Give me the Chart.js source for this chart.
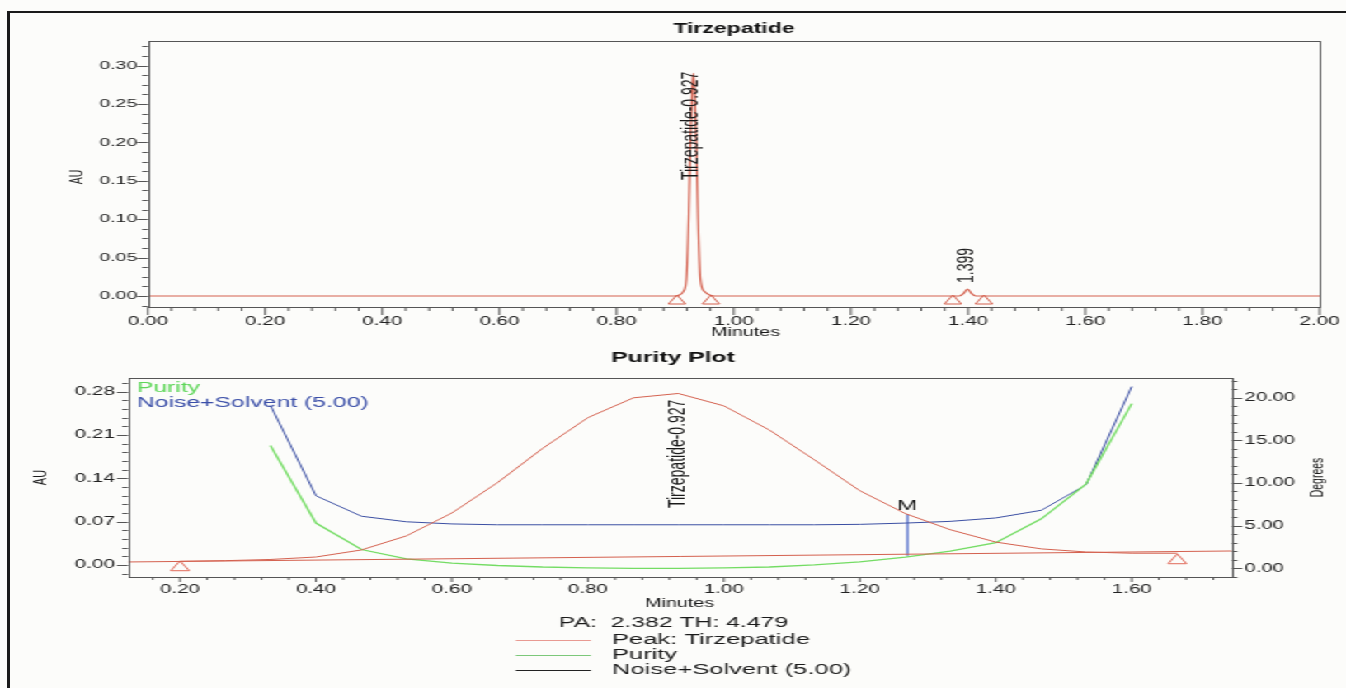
<!DOCTYPE html>
<html><head><meta charset="utf-8">
<script src="https://cdn.jsdelivr.net/npm/chart.js@4.4.1/dist/chart.umd.min.js"></script>
<style>
html,body{margin:0;padding:0;background:#fcfcfa;overflow:hidden}
#page{position:relative;width:1346px;height:688px;overflow:hidden;background:#fcfcfa}
#stretch{position:absolute;left:0;top:0;width:816px;height:688px;transform:scaleX(1.6495);transform-origin:0 0}
#c1{position:absolute;left:0;top:0}
#c2{position:absolute;left:0;top:345px}
#frame{position:absolute;left:7px;top:11px;right:-5px;bottom:-5px;border-left:3px solid #1a1a1a;border-top:2px solid #1a1a1a;pointer-events:none}
</style></head>
<body><div id="page"><div id="stretch"><canvas id="c1" width="816" height="345"></canvas><canvas id="c2" width="816" height="343"></canvas></div><div id="frame"></div></div>
<script>
// ---------------- DATA ----------------
// Top chromatogram (Minutes vs AU)
const TOP_TIME = [0.000, 0.900, 0.906, 0.914, 0.919, 0.923, 0.926, 0.929, 0.931, 0.933, 0.936, 0.939, 0.943, 0.950, 0.960, 0.968, 1.385, 1.392, 1.399, 1.406, 1.413, 2.000];
const TOP_AU   = [0,     0,     0.001, 0.006, 0.022, 0.100, 0.200, 0.270, 0.290, 0.270, 0.200, 0.100, 0.022, 0.006, 0.001, 0,     0,     0.003, 0.009, 0.003, 0,     0];
const TOP_MARK_TIME = [0.903, 0.961, 1.374, 1.427];
const TOP_MARK_AU   = [-0.0065, -0.0065, -0.0065, -0.0065];
const TOP_LABELS = ["Tirzepatide-0.927", "1.399"];
const TOP_LABEL_TIME = [0.927, 1.399];
const TOP_LABEL_AU = [0.151, 0.017];

// Purity plot
const PEAK_TIME = [0.200,0.267,0.333,0.400,0.467,0.533,0.600,0.667,0.733,0.800,0.867,0.933,1.000,1.067,1.133,1.200,1.267,1.333,1.400,1.467,1.533,1.600,1.667];
const PEAK_AU   = [0.0060,0.0070,0.0089,0.0129,0.0243,0.047,0.084,0.133,0.188,0.238,0.270,0.277,0.257,0.218,0.170,0.120,0.083,0.057,0.037,0.026,0.021,0.019,0.019];
const CURVE_TIME = [0.333,0.400,0.467,0.533,0.600,0.667,0.733,0.800,0.867,0.933,1.000,1.067,1.133,1.200,1.267,1.333,1.400,1.467,1.533,1.600];
const PURITY_DEG = [14.4,5.3,2.2,1.1,0.6,0.33,0.15,0.04,0.0,0.0,0.04,0.15,0.4,0.75,1.3,2.0,3.0,5.8,9.9,19.3];
const NOISE_DEG  = [19.1,8.5,6.1,5.45,5.2,5.1,5.1,5.1,5.1,5.1,5.1,5.1,5.1,5.15,5.3,5.5,5.9,6.8,9.8,21.3];
const BASE_TIME = [0.1235, 1.747];
const BASE_AU   = [0.0049, 0.0226];
const PP_MARK_TIME = [0.200, 1.667];
const PP_MARK_AU   = [-0.004, 0.0073];
const M_TIME = [1.270, 1.270];
const M_AU   = [0.0825, 0.0148];
const PP_LABELS = ["Tirzepatide-0.927", "M"];
const PP_LABEL_TIME = [0.927, 1.270];
const PP_LABEL_AU = [0.092, 0.0825];
const PA_TEXT = "PA:  2.382 TH: 4.479";
const LEGEND_NAMES = ["Peak: Tirzepatide", "Purity", "Noise+Solvent (5.00)"];

// ---------------- HELPERS ----------------
const FAM = "'Liberation Sans', Arial, Helvetica, sans-serif";
Chart.defaults.font.family = FAM;
const zip = (xs, ys) => xs.map((x, i) => ({x, y: ys[i]}));
const RED = '#d4614f', GREEN = '#74dc64', BLUE = '#3b4fa3';

const decor = {
  id: 'decor',
  afterDraw(chart, args, o) {
    const ctx = chart.ctx, a = chart.chartArea;
    ctx.save();
    ctx.strokeStyle = '#555'; ctx.lineWidth = 1;
    ctx.strokeRect(Math.round(a.left) + 0.5, Math.round(a.top) + 0.5, Math.round(a.right - a.left), Math.round(a.bottom - a.top));
    (o.ticks || []).forEach(s => {
      const sc = chart.scales[s.scale];
      const k0 = Math.ceil(sc.min / s.step - 1e-6);
      for (let k = k0; k * s.step <= sc.max + 1e-9; k++) {
        const v = k * s.step;
        const r = v / s.major;
        const major = Math.abs(r - Math.round(r)) < 1e-6;
        const len = major ? s.majorLen : s.minorLen;
        const p = sc.getPixelForValue(v);
        ctx.beginPath();
        ctx.strokeStyle = '#555';
        if (s.side === 'bottom') { ctx.moveTo(p, a.bottom); ctx.lineTo(p, a.bottom + len); }
        else if (s.side === 'left') { ctx.moveTo(a.left, Math.round(p) + 0.5); ctx.lineTo(a.left - len, Math.round(p) + 0.5); }
        else { ctx.moveTo(a.right, Math.round(p) + 0.5); ctx.lineTo(a.right + len, Math.round(p) + 0.5); }
        ctx.stroke();
      }
    });
    (o.anns || []).forEach(t => {
      const x = chart.scales.x.getPixelForValue(t.xv) + (t.dx || 0);
      const y = chart.scales[t.ys || 'y'].getPixelForValue(t.yv) + (t.dy || 0);
      ctx.save();
      ctx.font = t.font; ctx.fillStyle = t.color || '#1a1a1a';
      ctx.translate(x, y); if (t.rot) ctx.rotate(t.rot);
      ctx.textAlign = t.align || 'left'; ctx.textBaseline = t.base || 'middle';
      ctx.fillText(t.text, 0, 0);
      ctx.restore();
    });
    (o.texts || []).forEach(t => {
      ctx.save();
      ctx.font = t.font; ctx.fillStyle = t.color || '#1a1a1a';
      ctx.translate(t.x, t.y); if (t.rot) ctx.rotate(t.rot);
      ctx.textAlign = t.align || 'center'; ctx.textBaseline = t.base || 'middle';
      ctx.fillText(t.text, 0, 0);
      ctx.restore();
    });
    (o.lines || []).forEach(l => {
      ctx.beginPath(); ctx.strokeStyle = l.color; ctx.lineWidth = 1;
      ctx.moveTo(l.x1, l.y + 0.5); ctx.lineTo(l.x2, l.y + 0.5); ctx.stroke();
    });
    ctx.restore();
  }
};

const tickFont = (s) => ({size: s, family: FAM});
const hideGrid = (tl) => ({drawOnChartArea: false, drawTicks: true, tickLength: tl, tickColor: 'rgba(0,0,0,0)'});

// ---------------- TOP CHART ----------------
new Chart(document.getElementById('c1'), {
  type: 'line',
  data: {
    datasets: [
      {data: zip(TOP_TIME, TOP_AU), borderColor: RED, borderWidth: 1.2, pointRadius: 0, cubicInterpolationMode: 'monotone', fill: false},
      {type: 'scatter', data: zip(TOP_MARK_TIME, TOP_MARK_AU), pointStyle: 'triangle', pointRadius: 6, borderColor: RED, borderWidth: 1, backgroundColor: 'rgba(0,0,0,0)', showLine: false}
    ]
  },
  options: {
    responsive: false, animation: false, events: [],
    layout: {padding: {top: 41, right: 16, left: 0, bottom: 0}},
    plugins: {
      legend: {display: false}, tooltip: {enabled: false},
      decor: {
        ticks: [
          {scale: 'x', step: 0.04, major: 0.2, side: 'bottom', majorLen: 8, minorLen: 4},
          {scale: 'y', step: 0.0125, major: 0.05, side: 'left', majorLen: 6.5, minorLen: 3.5}
        ],
        anns: TOP_LABELS.map((t, i) => ({text: t, xv: TOP_LABEL_TIME[i], yv: TOP_LABEL_AU[i], rot: -Math.PI / 2, font: '14px ' + FAM, align: 'left', base: 'middle'})),
        texts: [
          {text: 'Tirzepatide', x: 445, y: 29, font: 'bold 14px ' + FAM, color: '#111'},
          {text: 'AU', x: 47.5, y: 177, rot: -Math.PI / 2, font: '10.5px ' + FAM},
          {text: 'Minutes', x: 452, y: 333, font: '12px ' + FAM}
        ]
      }
    },
    scales: {
      x: {type: 'linear', min: 0, max: 2, afterFit: s => { s.height = 38; },
        ticks: {stepSize: 0.2, callback: v => v.toFixed(2), font: tickFont(12.5), color: '#222', padding: 0, maxRotation: 0, autoSkip: false, includeBounds: false},
        grid: hideGrid(7.5), border: {display: false}},
      y: {type: 'linear', min: -0.0143, max: 0.332, afterFit: s => { s.width = 89.7; },
        ticks: {stepSize: 0.05, callback: v => v.toFixed(2), font: tickFont(11.8), color: '#222', padding: 0, autoSkip: false, includeBounds: false},
        grid: hideGrid(6.5), border: {display: false}}
    }
  },
  plugins: [decor]
});

// ---------------- PURITY PLOT ----------------
new Chart(document.getElementById('c2'), {
  type: 'line',
  data: {
    datasets: [
      {data: zip(BASE_TIME, BASE_AU), borderColor: RED, borderWidth: 1, pointRadius: 0, yAxisID: 'y'},
      {data: zip(PEAK_TIME, PEAK_AU), borderColor: RED, borderWidth: 1, pointRadius: 0, tension: 0, yAxisID: 'y'},
      {data: zip(CURVE_TIME, PURITY_DEG), borderColor: GREEN, borderWidth: 1.3, pointRadius: 0, tension: 0, yAxisID: 'y2'},
      {data: zip(CURVE_TIME, NOISE_DEG), borderColor: BLUE, borderWidth: 1, pointRadius: 0, tension: 0, yAxisID: 'y2'},
      {data: zip(M_TIME, M_AU), borderColor: '#4a68c8', borderWidth: 1.2, pointRadius: 0, yAxisID: 'y'},
      {type: 'scatter', data: zip(PP_MARK_TIME, PP_MARK_AU), pointStyle: 'triangle', pointRadius: 6.5, borderColor: '#e06a5a', borderWidth: 1, backgroundColor: 'rgba(0,0,0,0)', showLine: false, yAxisID: 'y'}
    ]
  },
  options: {
    responsive: false, animation: false, events: [],
    layout: {padding: {top: 33, right: 0, left: 0, bottom: 0}},
    plugins: {
      legend: {display: false}, tooltip: {enabled: false},
      decor: {
        ticks: [
          {scale: 'x', step: 0.04, major: 0.2, side: 'bottom', majorLen: 5, minorLen: 3},
          {scale: 'y', step: 0.014, major: 0.07, side: 'left', majorLen: 6.7, minorLen: 3.5},
          {scale: 'y2', step: 1, major: 5, side: 'right', majorLen: 6.5, minorLen: 3.5}
        ],
        anns: [
          {text: PP_LABELS[0], xv: PP_LABEL_TIME[0], yv: PP_LABEL_AU[0], dx: 2, rot: -Math.PI / 2, font: '14px ' + FAM, align: 'left', base: 'middle'},
          {text: PP_LABELS[1], xv: PP_LABEL_TIME[1], yv: PP_LABEL_AU[1], dy: -1, font: '15px ' + FAM, align: 'center', base: 'bottom'}
        ],
        texts: [
          {text: 'Purity Plot', x: 408, y: 13, font: 'bold 15px ' + FAM, color: '#111'},
          {text: 'Purity', x: 83, y: 43, font: '15px ' + FAM, color: '#5fd65a', align: 'left'},
          {text: 'Noise+Solvent (5.00)', x: 83, y: 58, font: '15px ' + FAM, color: '#3b4fa8', align: 'left'},
          {text: 'AU', x: 24.5, y: 132.5, rot: -Math.PI / 2, font: '11px ' + FAM},
          {text: 'Degrees', x: 799, y: 132.5, rot: -Math.PI / 2, font: '10.5px ' + FAM},
          {text: 'Minutes', x: 412, y: 259, font: '12px ' + FAM},
          {text: PA_TEXT, x: 338.8, y: 278, font: '15px ' + FAM, align: 'left'},
          {text: LEGEND_NAMES[0], x: 371, y: 295, font: '15.5px ' + FAM, align: 'left'},
          {text: LEGEND_NAMES[1], x: 371, y: 310, font: '15.5px ' + FAM, align: 'left'},
          {text: LEGEND_NAMES[2], x: 371, y: 325, font: '15.5px ' + FAM, align: 'left'}
        ],
        lines: [
          {x1: 312.7, x2: 358.2, y: 295, color: '#e89a92'},
          {x1: 312.7, x2: 358.2, y: 310, color: '#7cc87a'},
          {x1: 312.7, x2: 358.2, y: 325, color: '#222'}
        ]
      }
    },
    scales: {
      x: {type: 'linear', min: 0.1235, max: 1.747, afterFit: s => { s.height = 111; },
        ticks: {stepSize: 0.2, callback: v => v.toFixed(2), font: tickFont(12.5), color: '#222', padding: 0, maxRotation: 0, autoSkip: false, includeBounds: false},
        grid: hideGrid(5), border: {display: false}},
      y: {type: 'linear', position: 'left', min: -0.0194, max: 0.302, afterFit: s => { s.width = 77.6; },
        ticks: {stepSize: 0.07, callback: v => v.toFixed(2), font: tickFont(12.5), color: '#222', padding: 1.2, autoSkip: false, includeBounds: false},
        grid: hideGrid(6.7), border: {display: false}},
      y2: {type: 'linear', position: 'right', min: -1.02, max: 22.3, afterFit: s => { s.width = 69.3; },
        ticks: {stepSize: 5, callback: v => v.toFixed(2), font: tickFont(12.2), color: '#222', padding: 1.4, autoSkip: false, includeBounds: false},
        grid: hideGrid(6.5), border: {display: false}}
    }
  },
  plugins: [decor]
});
</script>
</body></html>
